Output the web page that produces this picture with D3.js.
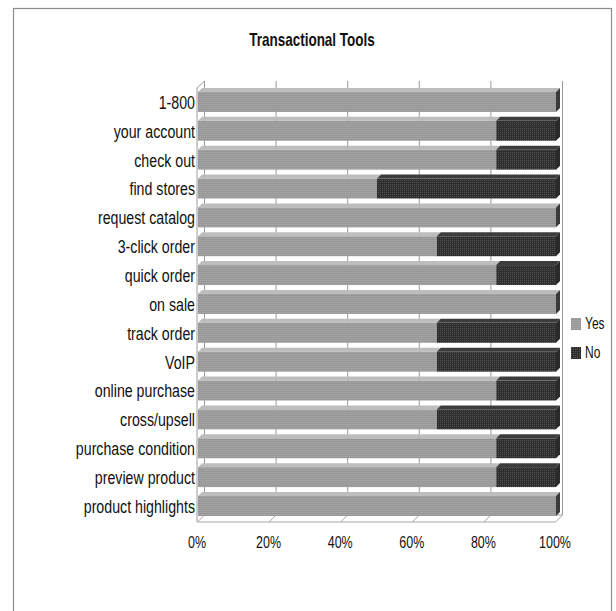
<!DOCTYPE html>
<html>
<head>
<meta charset="utf-8">
<script src="https://cdn.jsdelivr.net/npm/d3@7"></script>
<style>
    html, body { margin: 0; padding: 0; background: #fff; }
    svg { display: block; }
    text { font-family: "Liberation Sans", Arial, sans-serif; fill: #111; }
</style>
</head>
<body>
<div id="chart"></div>
<script>
// data (share of sites that offer each tool)
const categories = ["1-800", "your account", "check out", "find stores", "request catalog",
    "3-click order", "quick order ", "on sale ", "track order", "VoIP", "online purchase",
    "cross/upsell", "purchase condition", "preview product", "product highlights"];
const yesValues = [1.00, 0.833, 0.833, 0.50, 1.00, 0.667, 0.833, 1.00, 0.667, 0.667, 0.833, 0.667, 0.833, 0.833, 1.00];
const noValues = yesValues.map(v => 1 - v);
const seriesNames = ["Yes", "No"];
const tickValues = [0, 0.2, 0.4, 0.6, 0.8, 1.0];

const totalWidth = 616, totalHeight = 611;
const depthX = 6.5, depthY = -7;     // wall depth
const barDX = 4, barDY = -4;         // bar depth
const stretch = 1.35;                // the original picture is squeezed sideways, so text is tall

let svg = d3.select("#chart").append("svg")
        .attr("width", totalWidth)
        .attr("height", totalHeight);

let defs = svg.append("defs");
// grey bars: fine horizontal stripes
let pYes = defs.append("pattern").attr("id", "pYes")
        .attr("patternUnits", "userSpaceOnUse").attr("width", 4).attr("height", 2);
pYes.append("rect").attr("width", 4).attr("height", 2).attr("fill", "#a3a3a3");
pYes.append("rect").attr("y", 1).attr("width", 4).attr("height", 1).attr("fill", "#969696");
// dark bars: dotted
let pNo = defs.append("pattern").attr("id", "pNo")
        .attr("patternUnits", "userSpaceOnUse").attr("width", 2).attr("height", 2);
pNo.append("rect").attr("width", 2).attr("height", 2).attr("fill", "#2e2e2e");
pNo.append("rect").attr("width", 1).attr("height", 1).attr("fill", "#505050");

const fills = {Yes: "url(#pYes)", No: "url(#pNo)"};
const topFills = {Yes: "#bdbdbd", No: "#3c3c3c"};
const sideFills = {Yes: "#3a3a3a", No: "#2a2a2a"};

function tallText(sel, x, y) {
    return sel.attr("x", 0).attr("y", 0)
            .attr("transform", (d, i) => "translate(" + x(d, i) + "," + y(d, i) + ") scale(1," + stretch + ")");
}

// frame
svg.append("rect")
        .attr("x", 13.5).attr("y", 8.5)
        .attr("width", 598).attr("height", 640)
        .attr("fill", "none").attr("stroke", "#8c8c8c").attr("stroke-width", 1.2);

tallText(svg.append("text").datum("Transactional Tools"), () => 312, () => 46)
        .attr("text-anchor", "middle")
        .attr("font-size", 13.5).attr("font-weight", "bold")
        .text(d => d);

let xScale = d3.scaleLinear().domain([0, 1]).range([198, 556]);
let yScale = d3.scaleBand().domain(categories).range([85.5, 518.4])
        .paddingInner(0.17).paddingOuter(0.085);

const floorFront = 522, floorBack = floorFront + depthY;
const wallTop = 88;

// back wall gridlines
svg.append("g").selectAll("line")
        .data(tickValues).enter().append("line")
        .attr("x1", d => xScale(d) + depthX).attr("x2", d => xScale(d) + depthX)
        .attr("y1", wallTop + depthY).attr("y2", floorBack)
        .attr("stroke", "#9a9a9a").attr("stroke-width", 1);

// floor
let floor = svg.append("g").attr("stroke", "#a6a6a6").attr("fill", "none");
floor.append("line")
        .attr("x1", xScale(0) - 0.5).attr("x2", xScale(1) - 0.5)
        .attr("y1", floorFront).attr("y2", floorFront);
floor.append("line")
        .attr("x1", xScale(0) + depthX).attr("x2", xScale(1) + depthX)
        .attr("y1", floorBack).attr("y2", floorBack);
floor.selectAll("line.tick")
        .data(tickValues).enter().append("line")
        .attr("class", "tick")
        .attr("x1", d => xScale(d) - 0.5).attr("x2", d => xScale(d) + depthX)
        .attr("y1", floorFront).attr("y2", floorBack);

// left wall
let wall = svg.append("g").attr("stroke", "#9a9a9a").attr("fill", "none");
wall.append("line")
        .attr("x1", xScale(0) - 1).attr("x2", xScale(0) - 1)
        .attr("y1", wallTop).attr("y2", floorFront);
wall.append("line")
        .attr("x1", xScale(0) - 1).attr("x2", xScale(0) + depthX)
        .attr("y1", wallTop).attr("y2", wallTop + depthY);

// stacked bars
let rows = categories.map((c, i) => ({cat: c, Yes: yesValues[i], No: noValues[i]}));
let stacked = d3.stack().keys(seriesNames)(rows);

let bars = svg.append("g");
stacked.forEach(function (series) {
    let key = series.key;
    let g = bars.append("g");
    series.forEach(function (d) {
        if (d[1] - d[0] <= 0) {
            return;
        }
        let x0 = xScale(d[0]), x1 = xScale(d[1]);
        let yt = yScale(d.data.cat), h = yScale.bandwidth();
        let yf = yt - barDY;
        g.append("rect")
                .attr("x", x0).attr("y", yf)
                .attr("width", x1 - x0).attr("height", h + barDY)
                .attr("fill", fills[key]);
        g.append("path")
                .attr("d", "M" + x0 + "," + yf + "L" + (x0 + barDX) + "," + yt +
                        "L" + (x1 + barDX) + "," + yt + "L" + x1 + "," + yf + "Z")
                .attr("fill", topFills[key]);
        if (d[1] >= 0.999) {
            g.append("path")
                    .attr("d", "M" + x1 + "," + yf + "L" + (x1 + barDX) + "," + yt +
                            "L" + (x1 + barDX) + "," + (yt + h + barDY) + "L" + x1 + "," + (yt + h) + "Z")
                    .attr("fill", sideFills[key]);
        }
    });
});

// category labels
tallText(svg.append("g").selectAll("text")
        .data(categories).enter().append("text"),
        () => 195, d => yScale(d) + yScale.bandwidth() / 2 + 2 + 0.36 * 14.2 * stretch)
        .attr("text-anchor", "end")
        .attr("font-size", 14.2)
        .text(d => d);

// value axis labels
tallText(svg.append("g").selectAll("text")
        .data(tickValues).enter().append("text"),
        d => xScale(d) - 1, () => 548)
        .attr("text-anchor", "middle")
        .attr("font-size", 12.5)
        .text(d3.format(".0%"));

// legend
let legend = svg.append("g").selectAll("g")
        .data(seriesNames).enter().append("g")
        .attr("transform", (d, i) => "translate(571," + (318 + i * 29) + ")");
legend.append("rect")
        .attr("width", 10).attr("height", 12)
        .attr("fill", d => fills[d]);
tallText(legend.append("text"), () => 14, () => 11)
        .attr("font-size", 12)
        .text(d => d);
</script>
</body>
</html>
